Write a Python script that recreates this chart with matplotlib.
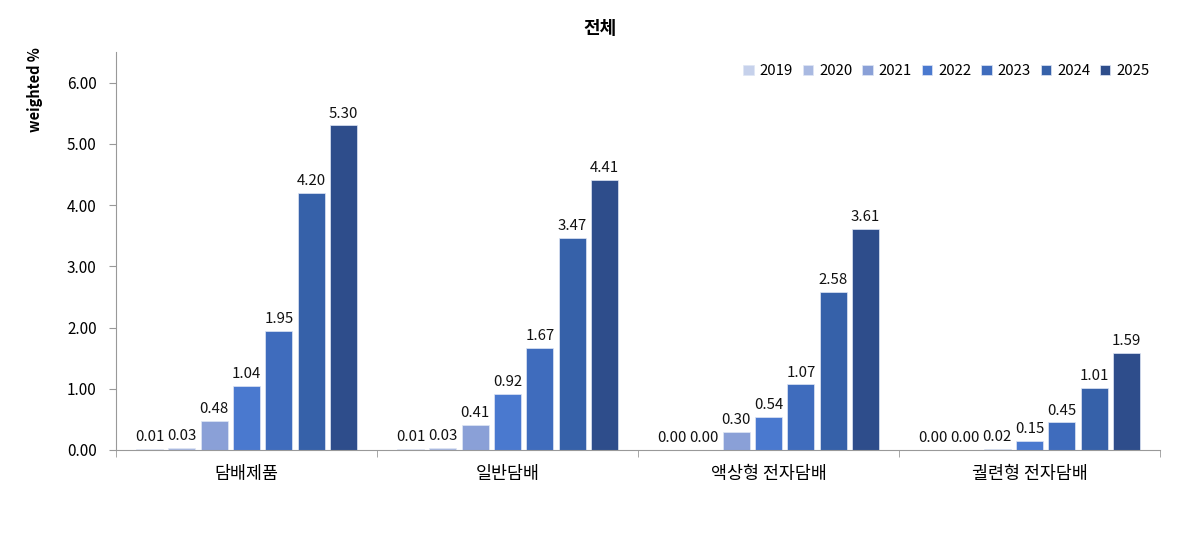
import matplotlib
matplotlib.use("Agg")
import matplotlib.pyplot as plt
import numpy as np

plt.rcParams['font.family'] = ['Noto Sans CJK KR', 'DejaVu Sans']

categories = ["담배제품", "일반담배", "액상형 전자담배", "궐련형 전자담배"]
years = ["2019", "2020", "2021", "2022", "2023", "2024", "2025"]
v2019 = [0.01, 0.01, 0.00, 0.00]
v2020 = [0.03, 0.03, 0.00, 0.00]
v2021 = [0.48, 0.41, 0.30, 0.02]
v2022 = [1.04, 0.92, 0.54, 0.15]
v2023 = [1.95, 1.67, 1.07, 0.45]
v2024 = [4.20, 3.47, 2.58, 1.01]
v2025 = [5.30, 4.41, 3.61, 1.59]
series = [v2019, v2020, v2021, v2022, v2023, v2024, v2025]
colors = ["#c6d1eb", "#a9b9e1", "#8aa0d7", "#4a79cf", "#3f6cbd", "#3661a9", "#2e4d8b"]

fig = plt.figure(figsize=(12, 5.43), dpi=100)
ax = fig.add_axes([0.0967, 0.1713, 0.87, 0.733])

x = np.arange(len(categories)) + 0.5
step = 0.124
width = 0.103
for i, (vals, c, yr) in enumerate(zip(series, colors, years)):
    pos = x + (i - 3) * step
    ax.bar(pos, vals, width=width, color=c, label=yr, edgecolor="#dfe6f5", linewidth=0.5)
    for p, v in zip(pos, vals):
        ax.text(p, v + 0.08, f"{v:.2f}", ha="center", va="bottom", fontsize=10.8, color="#111111")

ax.set_xlim(0, 4)
ax.set_ylim(0, 6.5)
ax.set_yticks(np.arange(0, 7, 1))
ax.set_yticklabels([f"{t:.2f}" for t in range(7)], fontsize=11)
ax.set_xticks(x)
ax.set_xticklabels(categories, fontsize=12.5)
ax.tick_params(axis="x", length=0, pad=11)
ax.set_xticks(np.arange(0, 5), minor=True)
ax.tick_params(axis="x", which="minor", length=5, color="#999999")
ax.tick_params(axis="y", length=5, color="#999999", pad=9)
for s in ["top", "right"]:
    ax.spines[s].set_visible(False)
for s in ["left", "bottom"]:
    ax.spines[s].set_color("#999999")

leg = ax.legend(loc="upper right", ncol=7, frameon=False, fontsize=10.8,
                handlelength=0.7, handleheight=0.7, handletextpad=0.4,
                columnspacing=0.65, bbox_to_anchor=(1.003, 1.003))

fig.text(0.5, 0.948, "전체", ha="center", va="center", fontsize=13, fontweight="bold")
fig.text(0.029, 0.835, "weighted %", ha="center", va="center", rotation=90,
         fontsize=10.5, fontweight="bold")

fig.savefig("out.png", dpi=100, facecolor="white")
